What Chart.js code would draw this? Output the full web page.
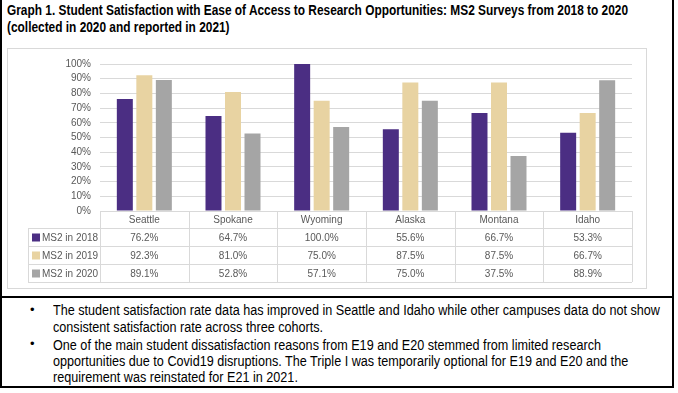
<!DOCTYPE html>
<html>
<head>
<meta charset="utf-8">
<script src="https://cdn.jsdelivr.net/npm/chart.js@4"></script>
<style>
  body { margin: 0; background: #fff; width: 678px; height: 393px; position: relative; overflow: hidden; }
  #frame { position: absolute; left: 0; top: -2px; width: 674px; height: 390px; box-sizing: border-box; border: 2px solid #000; }
  .ln { position: absolute; white-space: nowrap; transform-origin: 0 50%; line-height: 16px; color: #000; }
  .tt { font: bold 14px "Liberation Sans", Arial, sans-serif; left: 7px; }
  .bl { font: 14px "Liberation Sans", Arial, sans-serif; left: 53px; }
  .dot { position: absolute; left: 30px; font: 13px "Liberation Sans", Arial, sans-serif; line-height: 16px; }
  #box { position: absolute; left: 7px; top: 48px; width: 640px; height: 241px; box-sizing: border-box; border: 1px solid #d9d9d9; }
  #sep { position: absolute; left: 0; top: 296px; width: 674px; height: 2px; background: #000; }
</style>
</head>
<body>
<div id="frame"></div>
<div class="ln tt fit" style="top:2px">Graph 1. Student Satisfaction with Ease of Access to Research Opportunities: MS2 Surveys from 2018 to 2020</div>
<div class="ln tt" style="top:19px">(collected in 2020 and reported in 2021)</div>
<div id="box"><canvas id="satChart"></canvas></div>
<div id="sep"></div>
<div class="dot" style="top:302px">&#8226;</div>
<div class="dot" style="top:336px">&#8226;</div>
<div class="ln bl fit" style="top:302px">The student satisfaction rate data has improved in Seattle and Idaho while other campuses data do not show</div>
<div class="ln bl" style="top:319px">consistent satisfaction rate across three cohorts.</div>
<div class="ln bl" style="top:337px">One of the main student dissatisfaction reasons from E19 and E20 stemmed from limited research</div>
<div class="ln bl" style="top:353px">opportunities due to Covid19 disruptions. The Triple I was temporarily optional for E19 and E20 and the</div>
<div class="ln bl" style="top:369px">requirement was reinstated for E21 in 2021.</div>
<script>
// Data
const campuses = ['Seattle', 'Spokane', 'Wyoming', 'Alaska', 'Montana', 'Idaho'];
const ms2in2018 = [76.2, 64.7, 100.0, 55.6, 66.7, 53.3];
const ms2in2019 = [92.3, 81.0, 75.0, 87.5, 87.5, 66.7];
const ms2in2020 = [89.1, 52.8, 57.1, 75.0, 37.5, 88.9];
const seriesNames = ['MS2 in 2018', 'MS2 in 2019', 'MS2 in 2020'];
const seriesColors = ['#4b2e83', '#e8d3a2', '#a5a5a5'];

const textColor = '#595959';
const lineColor = '#d9d9d9';
const tableFont = '10px "Liberation Sans", Arial, sans-serif';

// squeeze the Arial-like text to the narrower width of the original font
const fits = document.querySelectorAll('.fit');
const titleScale = 621 / fits[0].getBoundingClientRect().width;
const noteScale = 607 / fits[1].getBoundingClientRect().width;
document.querySelectorAll('.tt').forEach(el => el.style.transform = 'scaleX(' + titleScale + ')');
document.querySelectorAll('.bl').forEach(el => el.style.transform = 'scaleX(' + noteScale + ')');

// Data table under the plot, aligned with the category scale
const dataTable = {
    id: 'dataTable',
    afterDraw(chart) {
        const ctx = chart.ctx;
        const x = chart.scales.x;
        const top = chart.chartArea.bottom;
        const left = chart.chartArea.left;
        const right = chart.chartArea.right;
        const legendLeft = 20;
        const rows = [top, top + 17, top + 35, top + 53, top + 71];
        const step = (right - left) / campuses.length;

        ctx.save();
        ctx.strokeStyle = lineColor;
        ctx.lineWidth = 1;
        ctx.beginPath();
        ctx.moveTo(left, rows[0] + 0.5); ctx.lineTo(right, rows[0] + 0.5);
        for (let r = 1; r < rows.length; r++) {
            ctx.moveTo(legendLeft, rows[r] + 0.5); ctx.lineTo(right, rows[r] + 0.5);
        }
        ctx.moveTo(legendLeft + 0.5, rows[1]); ctx.lineTo(legendLeft + 0.5, rows[4]);
        for (let i = 0; i <= campuses.length; i++) {
            const px = Math.round(left + i * step) + 0.5;
            ctx.moveTo(px, rows[0]); ctx.lineTo(px, rows[4]);
        }
        ctx.stroke();

        ctx.font = tableFont;
        ctx.fillStyle = textColor;
        ctx.textAlign = 'center';
        ctx.textBaseline = 'middle';
        campuses.forEach((c, i) => {
            ctx.fillText(c, x.getPixelForValue(i), (rows[0] + rows[1]) / 2 + 1);
        });

        const series = [ms2in2018, ms2in2019, ms2in2020];
        series.forEach((vals, s) => {
            const cy = (rows[s + 1] + rows[s + 2]) / 2 + 1;
            ctx.fillStyle = seriesColors[s];
            ctx.fillRect(legendLeft + 4, cy - 4.5, 8, 8);
            ctx.fillStyle = textColor;
            ctx.textAlign = 'left';
            ctx.fillText(seriesNames[s], legendLeft + 14, cy);
            ctx.textAlign = 'center';
            vals.forEach((v, i) => {
                ctx.fillText(v.toFixed(1) + '%', x.getPixelForValue(i), cy);
            });
        });
        ctx.restore();
    }
};

const satCtx = document.getElementById('satChart').getContext('2d');
const satChart = new Chart(satCtx, {
    type: 'bar',
    data: {
        labels: campuses,
        datasets: [
            { label: seriesNames[0], data: ms2in2018, backgroundColor: seriesColors[0] },
            { label: seriesNames[1], data: ms2in2019, backgroundColor: seriesColors[1] },
            { label: seriesNames[2], data: ms2in2020, backgroundColor: seriesColors[2] }
        ]
    },
    options: {
        responsive: true,
        maintainAspectRatio: false,
        animation: false,
        datasets: { bar: { categoryPercentage: 0.66, barPercentage: 0.82 } },
        layout: { padding: { left: 0, right: 14, top: 12, bottom: 77 } },
        plugins: { legend: { display: false }, tooltip: { enabled: false } },
        scales: {
            x: { display: false },
            y: {
                min: 0,
                max: 100,
                afterFit(scale) { scale.width = 92; },
                border: { display: false },
                grid: { color: lineColor, drawTicks: false },
                ticks: {
                    stepSize: 10,
                    padding: 9,
                    color: textColor,
                    font: { family: '"Liberation Sans", Arial, sans-serif', size: 10 },
                    callback: v => v + '%'
                }
            }
        }
    },
    plugins: [dataTable]
});
</script>
</body>
</html>
